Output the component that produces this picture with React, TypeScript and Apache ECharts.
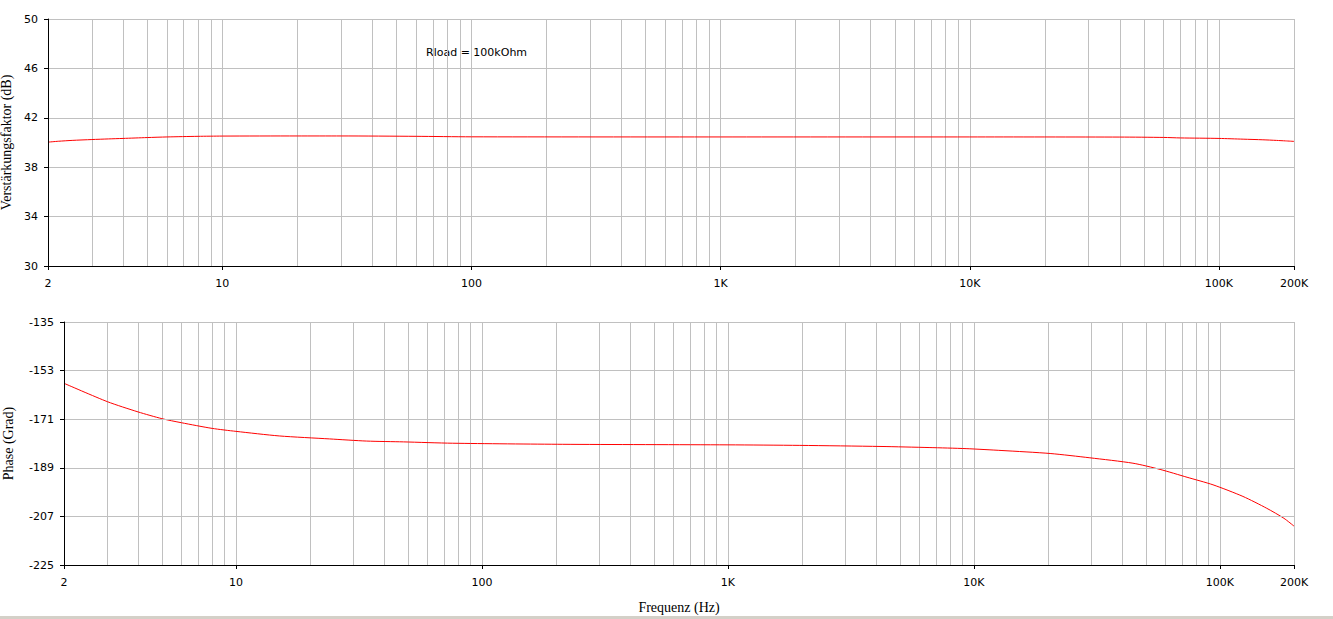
import React, { useEffect, useRef } from "react";
import * as echarts from "echarts";

// Frequency (Hz) / gain (dB) samples of the top trace
const gainFreq = [2, 2.2, 2.5, 3, 3.5, 4, 5, 6, 8, 10, 20, 30, 60, 100, 1000, 10000, 40000, 60000, 70000, 100000, 125000, 150000, 170000, 185000, 200000];
const gainDb = [40.03, 40.1, 40.17, 40.24, 40.29, 40.33, 40.4, 40.45, 40.5, 40.52, 40.53, 40.53, 40.5, 40.46, 40.45, 40.45, 40.44, 40.41, 40.37, 40.33, 40.27, 40.22, 40.17, 40.13, 40.09];

// Frequency (Hz) / phase (deg) samples of the bottom trace
const phaseFreq = [2, 3, 4, 5, 6, 8, 10, 15, 24, 34, 48, 76, 213, 1000, 1960, 4190, 6570, 9290, 13000, 20400, 29600, 44300, 57100, 73500, 93700, 124000, 155000, 182000, 200000];
const phaseDeg = [-157.7, -164.5, -168.3, -170.8, -172.3, -174.4, -175.5, -177.2, -178.3, -179.1, -179.4, -179.9, -180.3, -180.5, -180.7, -181.1, -181.5, -181.9, -182.6, -183.7, -185.3, -187.3, -189.6, -192.5, -195.3, -199.6, -204.0, -207.7, -210.6];

// Axis labels
const freqLabels = [2, 10, 100, 1000, 10000, 100000, 200000];
const gainTicks = [30, 34, 38, 42, 46, 50];
const phaseTicks = [-225, -207, -189, -171, -153, -135];

const F_MIN = 2;
const F_MAX = 200000;

// vertical grid positions: 1..9 multiples of each decade within range
const gridFreqs: number[] = [];
for (let d = 1; d <= 100000; d *= 10) {
  for (let m = 1; m <= 9; m++) {
    const f = m * d;
    if (f >= F_MIN && f <= F_MAX) gridFreqs.push(f);
  }
}

const lg = (v: number) => Math.log10(v);

const fmtFreq = (v: number) => {
  const f = Math.round(Math.pow(10, v));
  if (f >= 1000) return Math.round(f / 1000) + "K";
  return String(f);
};

const labelFont = { fontFamily: "DejaVu Sans", fontSize: 11, color: "#000" };
const nameFont = { fontFamily: "Liberation Serif", fontSize: 14, color: "#000" };
const gridColor = "#c0c0c0";

function labelXAxis(gridIndex: number, withName: boolean) {
  return {
    type: "value",
    gridIndex,
    min: lg(F_MIN),
    max: lg(F_MAX),
    position: "bottom",
    axisLine: { show: true, lineStyle: { color: "#000", width: 1 } },
    axisTick: { show: true, length: 4, customValues: freqLabels.map(lg), lineStyle: { color: "#000" } },
    axisLabel: { ...labelFont, margin: 12, customValues: freqLabels.map(lg), formatter: fmtFreq },
    splitLine: { show: false },
    name: withName ? "Frequenz (Hz)" : "",
    nameLocation: "middle",
    nameGap: 35,
    nameTextStyle: nameFont,
    z: 5,
  };
}

function gridXAxis(gridIndex: number) {
  return {
    type: "value",
    gridIndex,
    min: lg(F_MIN),
    max: lg(F_MAX),
    position: "bottom",
    axisLine: { show: false },
    axisTick: { show: false, customValues: gridFreqs.map(lg) },
    axisLabel: { show: false },
    splitLine: { show: true, lineStyle: { color: gridColor, width: 1 } },
  };
}

function yAxis(gridIndex: number, ticks: number[], name: string, nameGap: number) {
  return {
    type: "value",
    gridIndex,
    min: ticks[0],
    max: ticks[ticks.length - 1],
    axisLine: { show: true, lineStyle: { color: "#000", width: 1 } },
    axisTick: { show: true, length: 4, customValues: ticks, lineStyle: { color: "#000" } },
    axisLabel: { ...labelFont, margin: 10, customValues: ticks },
    splitLine: { show: true, lineStyle: { color: gridColor, width: 1 } },
    name,
    nameLocation: "middle",
    nameGap,
    nameTextStyle: nameFont,
    z: 5,
  };
}

export default function App() {
  const ref = useRef<HTMLDivElement>(null);
  useEffect(() => {
    if (!ref.current) return;
    const chart = echarts.init(ref.current, null, { renderer: "svg" });
    chart.setOption({
      animation: false,
      backgroundColor: "#fff",
      grid: [
        { left: 48, top: 19, width: 1246, height: 247, outerBoundsMode: "none", containLabel: false },
        { left: 64, top: 322, width: 1230, height: 243, outerBoundsMode: "none", containLabel: false },
      ],
      xAxis: [labelXAxis(0, false), gridXAxis(0), labelXAxis(1, true), gridXAxis(1)],
      yAxis: [
        yAxis(0, gainTicks, "Verstärkungsfaktor (dB)", 33),
        yAxis(1, phaseTicks, "Phase (Grad)", 49),
      ],
      series: [
        {
          type: "line",
          xAxisIndex: 0,
          yAxisIndex: 0,
          data: gainFreq.map((f, i) => [lg(f), gainDb[i]]),
          showSymbol: false,
          smooth: 0.25,
          lineStyle: { color: "#ff0000", width: 1 },
          z: 3,
        },
        {
          type: "line",
          xAxisIndex: 2,
          yAxisIndex: 1,
          data: phaseFreq.map((f, i) => [lg(f), phaseDeg[i]]),
          showSymbol: false,
          smooth: 0.25,
          lineStyle: { color: "#ff0000", width: 1 },
          z: 3,
        },
      ],
      graphic: [
        {
          type: "text",
          left: 426,
          top: 47,
          style: { text: "Rload = 100kOhm", fontFamily: "DejaVu Sans", fontSize: 11, fill: "#000" },
        },
        {
          type: "rect",
          left: 0,
          top: 616,
          shape: { width: 1333, height: 3 },
          style: { fill: "#d4d0c8" },
        },
      ],
    });
    return () => chart.dispose();
  }, []);
  return (
    <div
      ref={ref}
      style={{ position: "absolute", left: 0, top: 0, width: 1333, height: 619 }}
    />
  );
}
